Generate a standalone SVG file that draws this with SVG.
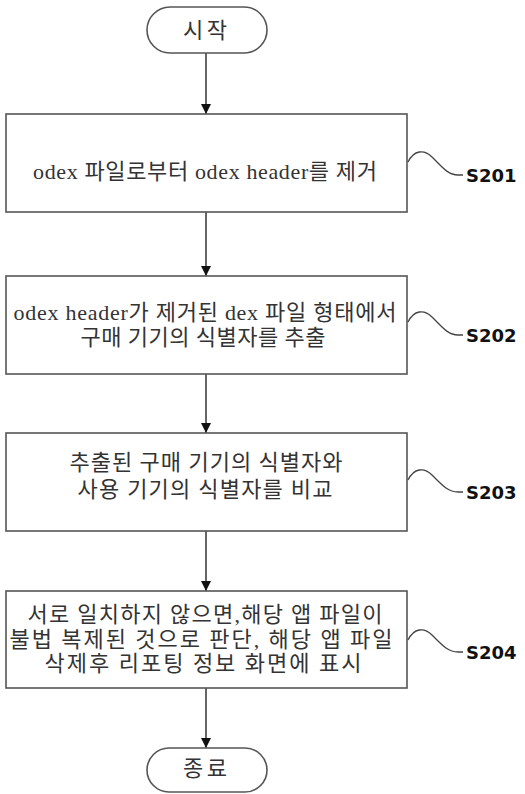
<svg xmlns="http://www.w3.org/2000/svg" width="525" height="794" viewBox="0 0 525 794">
<defs>
<style>
.box{fill:#fff;stroke:#555;stroke-width:1.6}
.term{fill:#fff;stroke:#555;stroke-width:1.6}
.t{font-family:"Liberation Serif","Noto Sans CJK KR",serif;font-size:22px;fill:#333;text-anchor:middle}
.lbl{font-family:"DejaVu Sans",sans-serif;font-weight:bold;font-size:18px;fill:#111}
.wave{fill:none;stroke:#444;stroke-width:1.3}
.conn{stroke:#333;stroke-width:1.5;fill:none}
</style>
<marker id="ah" viewBox="0 0 10 10" refX="10" refY="5" markerWidth="10" markerHeight="10" markerUnits="userSpaceOnUse" orient="auto">
<path d="M0,0 L10,5 L0,10 Z" fill="#111"/>
</marker>
</defs>
<rect width="525" height="794" fill="#fff"/>
<g id="connectors">
<line class="conn" x1="206" y1="53" x2="206" y2="114" marker-end="url(#ah)"/>
<line class="conn" x1="206" y1="212" x2="206" y2="276" marker-end="url(#ah)"/>
<line class="conn" x1="206" y1="374" x2="206" y2="433" marker-end="url(#ah)"/>
<line class="conn" x1="206" y1="531" x2="206" y2="591" marker-end="url(#ah)"/>
<line class="conn" x1="206" y1="688" x2="206" y2="748" marker-end="url(#ah)"/>
</g>
<g id="start">
<rect class="term" x="147" y="7" width="120" height="46" rx="23"/>
<text class="t" x="205" y="38" textLength="44" lengthAdjust="spacing">시작</text>
</g>
<g id="s201">
<rect class="box" x="6" y="114" width="401" height="98"/>
<text class="t" x="205" y="179" textLength="344" lengthAdjust="spacing">odex 파일로부터 odex header를 제거</text>
<path class="wave" d="M408,162 C414,150 424,149 432,157 C442,167 448,175 458,175 L463,175"/>
<text class="lbl" x="466" y="182">S201</text>
</g>
<g id="s202">
<rect class="box" x="6" y="276" width="401" height="98"/>
<text class="t" x="205" y="320" textLength="383" lengthAdjust="spacing">odex header가 제거된 dex 파일 형태에서</text>
<text class="t" x="203" y="345" textLength="245" lengthAdjust="spacing">구매 기기의 식별자를 추출</text>
<path class="wave" d="M408,322 C414,310 424,309 432,317 C442,327 448,335 458,335 L463,335"/>
<text class="lbl" x="466" y="342">S202</text>
</g>
<g id="s203">
<rect class="box" x="6" y="433" width="401" height="98"/>
<text class="t" x="206" y="470" textLength="273" lengthAdjust="spacing">추출된 구매 기기의 식별자와</text>
<text class="t" x="205" y="497" textLength="255" lengthAdjust="spacing">사용 기기의 식별자를 비교</text>
<path class="wave" d="M408,480 C414,468 424,467 432,475 C442,485 448,492 458,492 L463,492"/>
<text class="lbl" x="466" y="499">S203</text>
</g>
<g id="s204">
<rect class="box" x="6" y="591" width="401" height="97"/>
<text class="t" x="205" y="622" textLength="355" lengthAdjust="spacing">서로 일치하지 않으면,해당 앱 파일이</text>
<text class="t" x="201" y="647" textLength="383" lengthAdjust="spacing">불법 복제된 것으로 판단, 해당 앱 파일</text>
<text class="t" x="203" y="671" textLength="317" lengthAdjust="spacing">삭제후 리포팅 정보 화면에 표시</text>
<path class="wave" d="M408,640 C414,628 424,627 432,635 C442,645 448,652 458,652 L463,652"/>
<text class="lbl" x="466" y="659">S204</text>
</g>
<g id="end">
<rect class="term" x="147" y="748" width="120" height="44" rx="22"/>
<text class="t" x="205" y="776" textLength="44" lengthAdjust="spacing">종료</text>
</g>
</svg>
